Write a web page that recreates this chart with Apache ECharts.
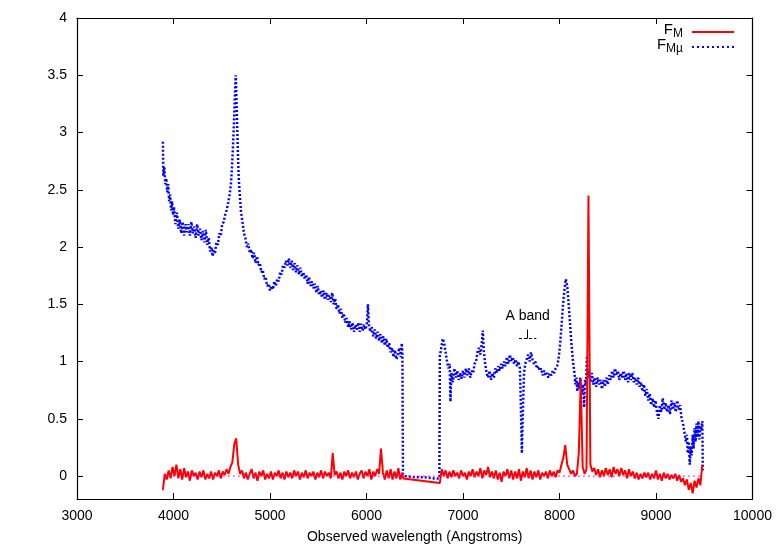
<!DOCTYPE html>
<html>
<head>
<meta charset="utf-8">
<script src="https://cdn.jsdelivr.net/npm/echarts@6/dist/echarts.min.js"></script>
<style>
  html, body { margin: 0; padding: 0; background: #fff; }
  #chart { width: 778px; height: 545px; }
</style>
</head>
<body>
<div id="chart"></div>
<script>
// F_Mu spectrum, [wavelength, flux]
const blueSpectrum = [
  [3890,2.92],[3895,2.62],[3905,2.70],[3915,2.55],[3925,2.60],[3935,2.48],[3945,2.55],[3955,2.40],[3965,2.46],[3975,2.32],
  [3985,2.40],[3995,2.28],[4005,2.35],[4020,2.20],[4035,2.30],[4050,2.16],[4065,2.24],[4080,2.12],[4095,2.22],[4110,2.10],
  [4125,2.20],[4140,2.13],[4155,2.20],[4170,2.10],[4185,2.22],[4200,2.12],[4215,2.18],[4230,2.08],[4245,2.20],[4260,2.10],
  [4275,2.16],[4290,2.06],[4305,2.14],[4320,2.04],[4335,2.15],[4350,2.02],[4365,2.08],[4380,1.96],[4395,2.00],[4405,1.92],
  [4415,1.97],[4430,1.95],[4445,2.04],[4460,2.02],[4475,2.12],[4490,2.10],[4505,2.20],[4520,2.22],[4535,2.28],[4550,2.32],
  [4565,2.38],[4580,2.45],[4595,2.55],[4605,2.68],[4615,2.85],[4625,3.05],[4635,3.30],[4645,3.50],[4655,3.20],[4665,2.90],
  [4675,2.62],[4685,2.48],[4700,2.30],[4715,2.22],[4730,2.12],[4745,2.08],[4760,2.00],[4775,2.03],[4790,1.95],[4805,1.98],
  [4820,1.90],[4835,1.95],[4850,1.86],[4865,1.92],[4880,1.84],[4895,1.86],[4910,1.78],[4925,1.80],[4940,1.72],[4955,1.74],
  [4970,1.66],[4985,1.68],[5000,1.62],[5015,1.66],[5030,1.63],[5045,1.70],[5060,1.66],[5075,1.72],[5090,1.70],[5105,1.78],
  [5120,1.76],[5135,1.84],[5150,1.82],[5165,1.88],[5180,1.84],[5195,1.90],[5210,1.82],[5225,1.88],[5240,1.80],[5255,1.86],
  [5270,1.78],[5285,1.84],[5300,1.76],[5315,1.82],[5330,1.74],[5345,1.78],[5360,1.72],[5375,1.76],[5390,1.68],[5405,1.74],
  [5420,1.66],[5435,1.70],[5450,1.64],[5465,1.68],[5480,1.60],[5495,1.66],[5510,1.58],[5525,1.62],[5540,1.56],[5555,1.62],
  [5570,1.54],[5585,1.60],[5600,1.54],[5615,1.58],[5630,1.52],[5645,1.60],[5660,1.50],[5675,1.55],[5690,1.46],[5705,1.50],
  [5720,1.42],[5735,1.46],[5750,1.38],[5765,1.42],[5780,1.34],[5795,1.38],[5810,1.30],[5825,1.35],[5840,1.28],[5855,1.34],
  [5870,1.26],[5885,1.32],[5900,1.28],[5915,1.34],[5930,1.26],[5945,1.33],[5960,1.27],[5975,1.32],[5990,1.28],[6005,1.34],
  [6015,1.50],[6025,1.32],[6040,1.26],[6055,1.30],[6070,1.22],[6085,1.28],[6100,1.20],[6115,1.26],[6130,1.18],[6145,1.24],
  [6160,1.16],[6175,1.22],[6190,1.14],[6205,1.20],[6220,1.12],[6235,1.16],[6250,1.08],[6265,1.12],[6280,1.04],[6295,1.10],
  [6310,1.02],[6325,1.06],[6340,1.12],[6355,1.04],[6365,1.16],[6372,1.08],[6378,0.02],
  [6400,0.00],[6500,-0.01],[6600,-0.01],[6700,-0.02],[6755,-0.02],
  [6760,1.05],[6775,1.12],[6790,1.20],[6805,1.16],[6820,1.08],[6835,1.00],[6850,0.94],[6862,0.98],[6870,0.65],[6880,0.90],
  [6895,0.82],[6910,0.94],[6925,0.86],[6940,0.92],[6955,0.84],[6970,0.90],[6985,0.85],[7000,0.92],[7015,0.86],[7030,0.94],
  [7045,0.88],[7060,0.94],[7075,0.86],[7090,0.92],[7105,0.90],[7120,0.98],[7135,1.00],[7150,1.08],[7165,1.12],[7180,1.06],
  [7195,1.16],[7205,1.27],[7215,1.10],[7230,0.98],[7245,0.90],[7260,0.86],[7275,0.92],[7290,0.84],[7305,0.90],[7320,0.86],
  [7335,0.94],[7350,0.90],[7365,0.96],[7380,0.92],[7395,0.98],[7410,0.94],[7425,1.00],[7440,0.96],[7455,1.04],[7470,0.98],
  [7485,1.06],[7500,1.00],[7515,1.04],[7530,0.98],[7545,1.02],[7560,0.96],[7575,1.00],[7590,0.94],[7600,0.60],[7610,0.20],
  [7620,0.55],[7632,0.90],[7645,0.98],[7660,1.02],[7675,1.06],[7690,1.00],[7705,1.08],[7720,1.02],[7735,0.98],[7750,1.00],
  [7765,0.94],[7780,0.96],[7795,0.92],[7810,0.94],[7825,0.88],[7840,0.92],[7855,0.88],[7870,0.90],[7885,0.86],[7900,0.90],
  [7915,0.88],[7930,0.92],[7945,0.90],[7960,0.94],[7975,0.96],[7990,1.02],[8005,1.14],[8020,1.30],[8035,1.48],[8050,1.62],
  [8065,1.72],[8080,1.66],[8095,1.50],[8110,1.32],[8125,1.14],[8140,1.00],[8155,0.90],[8165,0.80],[8175,0.86],[8185,0.74],
  [8195,0.82],[8205,0.76],[8215,0.86],[8230,0.72],[8245,0.80],[8255,0.60],[8265,0.84],[8275,0.80],[8285,1.05],[8295,0.86],
  [8305,0.92],[8320,0.82],[8335,0.90],[8350,0.80],[8365,0.86],[8380,0.78],[8395,0.86],[8410,0.80],[8425,0.84],[8440,0.76],
  [8455,0.84],[8470,0.78],[8485,0.86],[8500,0.80],[8515,0.88],[8530,0.84],[8545,0.92],[8560,0.86],[8575,0.94],[8590,0.88],
  [8605,0.92],[8620,0.84],[8635,0.90],[8650,0.86],[8665,0.92],[8680,0.84],[8695,0.90],[8710,0.82],[8725,0.90],[8740,0.84],
  [8755,0.90],[8770,0.82],[8785,0.86],[8800,0.80],[8815,0.86],[8830,0.78],[8845,0.82],[8860,0.74],[8875,0.80],[8890,0.70],
  [8905,0.76],[8920,0.66],[8935,0.72],[8950,0.62],[8965,0.68],[8980,0.60],[8995,0.66],[9010,0.56],[9025,0.50],[9040,0.62],
  [9055,0.56],[9070,0.68],[9085,0.58],[9100,0.64],[9115,0.56],[9130,0.62],[9145,0.54],[9160,0.66],[9175,0.58],[9190,0.64],
  [9205,0.56],[9220,0.66],[9235,0.58],[9250,0.62],[9265,0.50],[9280,0.46],[9295,0.38],[9310,0.30],[9320,0.36],[9330,0.20],
  [9340,0.30],[9350,0.10],[9360,0.26],[9370,0.18],[9380,0.36],[9390,0.24],[9400,0.42],[9410,0.30],[9420,0.46],[9430,0.34],
  [9440,0.48],[9450,0.32],[9460,0.44],[9470,0.40],[9480,0.48],[9485,0.05]
];

// F_M spectrum: sampled every 20 A, blue side (3890..6370) and red side (6760..9480)
const redStep = 20;
const redStart1 = 3890;
const redFlux1 = [
  -0.12,0.02,-0.03,0.05,-0.02,0.08,0.00,0.10,-0.02,0.06,
  -0.03,0.07,-0.01,0.04,-0.04,0.05,0.00,0.03,-0.03,0.04,
  -0.01,0.05,-0.03,0.02,-0.02,0.04,-0.03,0.03,0.00,0.05,
  -0.02,0.04,0.01,0.06,0.02,0.08,0.12,0.28,0.33,0.10,
  0.02,0.05,-0.02,0.03,-0.03,0.02,0.06,-0.02,0.03,-0.04,
  0.04,0.00,0.05,-0.03,0.02,-0.02,0.04,-0.03,0.03,0.00,
  0.05,-0.02,0.03,-0.03,0.04,-0.01,0.03,-0.02,0.05,0.00,
  0.04,-0.03,0.03,-0.01,0.05,-0.02,0.03,0.00,0.04,-0.03,
  0.03,-0.01,0.05,-0.02,0.04,0.00,0.03,-0.02,0.20,0.01,
  0.04,-0.02,0.03,-0.03,0.04,0.00,0.05,-0.02,0.03,-0.01,
  0.04,-0.03,0.02,0.05,-0.02,0.04,0.00,0.06,-0.03,0.04,
  0.00,0.06,0.02,0.24,0.03,-0.03,0.05,-0.02,0.06,-0.03,
  0.04,-0.02,0.07,-0.03,0.03
];
// straight segment across the dichroic gap
const redGap = [[6380,-0.02]];
const redStart2 = 6760;
const redFlux2 = [
  -0.06,0.06,0.00,0.05,-0.02,0.04,-0.01,0.05,0.00,0.03,
  -0.02,0.05,0.00,0.03,-0.03,0.04,0.00,0.06,-0.01,0.04,
  0.00,0.07,-0.02,0.05,0.01,0.08,-0.01,0.04,-0.02,0.05,
  -0.03,0.03,-0.05,0.04,0.00,0.06,-0.02,0.05,-0.03,0.04,
  -0.02,0.06,-0.04,0.04,-0.01,0.07,-0.02,0.05,-0.03,0.04,
  -0.01,0.05,-0.03,0.03,0.00,0.04,-0.02,0.05,0.00,0.04,
  -0.01,0.05,0.03,0.10,0.16,0.27,0.10,0.06,0.02,0.05,
  0.00,0.02,0.20,0.84,0.08,0.02,0.06,2.45,0.10,0.04,
  0.07,0.01,0.06,-0.01,0.05,0.00,0.07,0.01,0.06,-0.01,
  0.08,0.02,0.06,0.00,0.07,0.01,0.05,-0.02,0.06,0.00,
  0.04,-0.02,0.03,-0.03,0.02,-0.02,0.03,-0.01,0.03,-0.03,
  0.02,-0.02,0.05,-0.03,0.02,-0.04,0.03,-0.02,0.02,-0.03,
  0.01,-0.02,0.02,-0.04,0.01,-0.05,-0.02,-0.08,-0.03,-0.12,
  -0.06,-0.15,-0.04,-0.10,-0.02,-0.08,0.10
];
const zeroLine = [[3890,0],[9480,0]];

const xTicks = { min: 3000, max: 10000, interval: 1000 };
const yTickValues = [0, 0.5, 1, 1.5, 2, 2.5, 3, 3.5, 4];

const redSpectrum = []
redFlux1.forEach((v, i) => redSpectrum.push([redStart1 + i * redStep, v]))
redGap.forEach((p) => redSpectrum.push(p))
redFlux2.forEach((v, i) => redSpectrum.push([redStart2 + i * redStep, v]))

const font = 'Liberation Sans, Arial, sans-serif'
const axisLine = { show: true, onZero: false, lineStyle: { color: '#000', width: 1.2 } }
const tick = { show: true, inside: true, length: 6, lineStyle: { color: '#000', width: 1 } }

const chart = echarts.init(document.getElementById('chart'))
chart.setOption({
  animation: false,
  backgroundColor: '#fff',
  grid: { left: 77, right: 25.5, top: 18, bottom: 46, outerBoundsMode: 'none', containLabel: false },
  xAxis: [
    {
      type: 'value', position: 'bottom', ...xTicks,
      axisLine, axisTick: tick, splitLine: { show: false },
      axisLabel: { fontSize: 14, color: '#000', fontFamily: font, margin: 10, formatter: (v) => String(v) },
      name: 'Observed wavelength (Angstroms)', nameLocation: 'middle', nameGap: 31,
      nameTextStyle: { fontSize: 14, color: '#000', fontFamily: font }
    },
    {
      type: 'value', position: 'top', ...xTicks,
      axisLine, axisTick: tick, splitLine: { show: false }, axisLabel: { show: false }
    }
  ],
  yAxis: [
    {
      type: 'value', position: 'left', min: -0.2, max: 4,
      axisLine, splitLine: { show: false },
      axisTick: { ...tick, customValues: yTickValues },
      axisLabel: { fontSize: 14, color: '#000', fontFamily: font, margin: 10, customValues: yTickValues }
    },
    {
      type: 'value', position: 'right', min: -0.2, max: 4,
      axisLine, splitLine: { show: false },
      axisTick: { ...tick, customValues: yTickValues },
      axisLabel: { show: false, customValues: yTickValues }
    }
  ],
  series: [
    {
      name: 'F_Mu', type: 'line', data: blueSpectrum, symbol: 'none',
      lineStyle: { color: '#0000ff', width: 2.5, type: [2, 2] },
      markLine: {
        silent: true, symbol: 'none', label: { show: false },
        data: [
          [{ coord: [7670, 1.28], lineStyle: { type: 'solid' } }, { coord: [7670, 1.20] }],
          [{ coord: [7580, 1.20], lineStyle: { type: [3, 2] } }, { coord: [7760, 1.20] }]
        ],
        lineStyle: { color: '#000', width: 1 }
      },
      markPoint: {
        silent: true, symbol: 'circle', symbolSize: 0,
        data: [{ coord: [7670, 1.40], label: { show: true, formatter: 'A band', position: 'inside', fontSize: 14, color: '#000', fontFamily: font } }]
      }
    },
    {
      name: 'F_M', type: 'line', data: redSpectrum, symbol: 'none',
      lineStyle: { color: '#ff0000', width: 2 }
    },
    {
      name: 'zero', type: 'line', data: zeroLine, symbol: 'none',
      lineStyle: { color: '#ff00ff', width: 1, type: [2, 3] }
    }
  ],
  graphic: [
    {
      type: 'text', right: 95, top: 22,
      style: {
        text: '{f|F}{s|M}', fontFamily: font,
        rich: { f: { fontSize: 15, fontFamily: font, fill: '#000' }, s: { fontSize: 12, fontFamily: font, fill: '#000', padding: [9, 0, 0, 0] } }
      }
    },
    { type: 'line', shape: { x1: 692, y1: 32, x2: 734, y2: 32 }, style: { stroke: '#ff0000', lineWidth: 2 } },
    {
      type: 'text', right: 95, top: 37,
      style: {
        text: '{f|F}{s|M\u00b5}', fontFamily: font,
        rich: { f: { fontSize: 15, fontFamily: font, fill: '#000' }, s: { fontSize: 12, fontFamily: font, fill: '#000', padding: [9, 0, 0, 0] } }
      }
    },
    { type: 'line', shape: { x1: 692, y1: 47, x2: 734, y2: 47 }, style: { stroke: '#0000ff', lineWidth: 2, lineDash: [2, 3] } }
  ]
})
</script>
</body>
</html>
